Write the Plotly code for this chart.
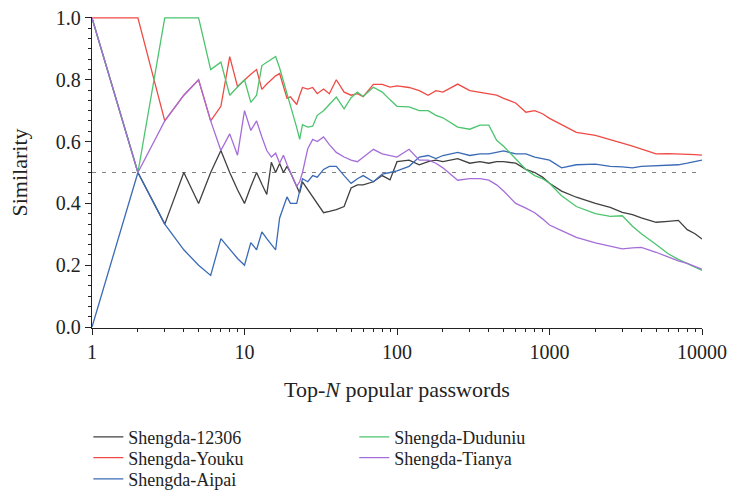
import plotly.graph_objects as go

# Top-N grid (shared by all series)
N = [1, 2, 3, 4, 5, 6, 7, 8, 9, 10,
     11, 12, 13, 14, 15, 16, 17, 18, 19, 20,
     22, 23, 24, 26, 28, 30, 33, 36, 40, 45, 50, 55, 60, 70, 80, 90,
     100, 120, 140, 160, 180, 200, 250, 300, 350, 400, 450, 500, 600, 700, 800, 900,
     1000, 1200, 1500, 2000, 2500, 3000, 3500, 4000, 5000, 6000, 7000, 8000, 9000, 10000]

shengda_12306 = [1.0, 0.5, 0.333, 0.5, 0.4, 0.5, 0.571, 0.5, 0.444, 0.4,
                 0.455, 0.5, 0.462, 0.429, 0.533, 0.5, 0.529, 0.5, 0.52, 0.5,
                 0.455, 0.434, 0.47, 0.445, 0.42, 0.40, 0.37, 0.374, 0.38, 0.39, 0.45, 0.46, 0.46, 0.47, 0.49, 0.476,
                 0.535, 0.54, 0.525, 0.535, 0.54, 0.535, 0.545, 0.53, 0.535, 0.53, 0.535, 0.535, 0.53, 0.51, 0.50, 0.485,
                 0.465, 0.44, 0.42, 0.40, 0.387, 0.371, 0.364, 0.353, 0.339, 0.342, 0.345, 0.315, 0.302, 0.285]

shengda_youku = [1.0, 1.0, 0.667, 0.75, 0.8, 0.667, 0.714, 0.875, 0.778, 0.8,
                 0.818, 0.833, 0.769, 0.786, 0.80, 0.8125, 0.82, 0.78, 0.74, 0.745,
                 0.72, 0.75, 0.775, 0.77, 0.775, 0.755, 0.77, 0.755, 0.80, 0.76, 0.75, 0.755, 0.745, 0.785, 0.785, 0.776,
                 0.78, 0.775, 0.765, 0.75, 0.765, 0.76, 0.786, 0.765, 0.76, 0.755, 0.75, 0.74, 0.725, 0.695, 0.70, 0.69,
                 0.675, 0.655, 0.63, 0.62, 0.605, 0.595, 0.585, 0.575, 0.56, 0.561, 0.56, 0.56, 0.558, 0.556]

shengda_aipai = [0.0, 0.5, 0.333, 0.25, 0.2, 0.167, 0.286, 0.25, 0.222, 0.2,
                 0.273, 0.25, 0.308, 0.286, 0.267, 0.25, 0.353, 0.389, 0.421, 0.40,
                 0.40, 0.44, 0.48, 0.47, 0.49, 0.485, 0.51, 0.52, 0.52, 0.49, 0.465, 0.48, 0.49, 0.47, 0.495, 0.50,
                 0.505, 0.52, 0.55, 0.555, 0.545, 0.555, 0.565, 0.555, 0.56, 0.56, 0.565, 0.57, 0.56, 0.56, 0.55, 0.545,
                 0.54, 0.515, 0.525, 0.527, 0.52, 0.518, 0.515, 0.52, 0.522, 0.525, 0.525, 0.53, 0.535, 0.54]

shengda_duduniu = [1.0, 0.5, 1.0, 1.0, 1.0, 0.833, 0.857, 0.75, 0.778, 0.8,
                   0.727, 0.75, 0.846, 0.857, 0.867, 0.875, 0.838, 0.796, 0.755, 0.717,
                   0.645, 0.607, 0.655, 0.647, 0.65, 0.685, 0.70, 0.72, 0.744, 0.706, 0.742, 0.76, 0.746, 0.776, 0.76, 0.735,
                   0.714, 0.712, 0.70, 0.70, 0.685, 0.677, 0.647, 0.64, 0.653, 0.653, 0.604, 0.585, 0.545, 0.51, 0.49, 0.48,
                   0.465, 0.425, 0.39, 0.367, 0.358, 0.36, 0.326, 0.302, 0.267, 0.237, 0.219, 0.206, 0.195, 0.183]

shengda_tianya = [1.0, 0.5, 0.667, 0.75, 0.8, 0.667, 0.571, 0.625, 0.556, 0.70,
                  0.636, 0.667, 0.615, 0.571, 0.55, 0.5625, 0.53, 0.556, 0.526, 0.50,
                  0.455, 0.47, 0.50, 0.577, 0.607, 0.60, 0.615, 0.59, 0.565, 0.55, 0.54, 0.535, 0.55, 0.575, 0.56, 0.555,
                  0.55, 0.575, 0.54, 0.54, 0.53, 0.515, 0.475, 0.48, 0.48, 0.475, 0.46, 0.44, 0.40, 0.385, 0.37, 0.35,
                  0.33, 0.312, 0.29, 0.272, 0.262, 0.253, 0.256, 0.258, 0.242, 0.226, 0.214, 0.206, 0.197, 0.187]

series_names = ["Shengda-12306", "Shengda-Youku", "Shengda-Aipai", "Shengda-Duduniu", "Shengda-Tianya"]
series_values = [shengda_12306, shengda_youku, shengda_aipai, shengda_duduniu, shengda_tianya]
colors = ["#404040", "#ef4a44", "#3a6ab5", "#4cc46e", "#a56dd8"]

threshold = 0.5
x_tick_vals = [1, 10, 100, 1000, 10000]
x_tick_text = ["1", "10", "100", "1000", "10000"]

FONT = "Liberation Serif"

# legend placement (paper coords): one legend per entry
leg_pos = [(-0.006, -0.351), (-0.006, -0.418), (-0.006, -0.486),
           (0.430, -0.351), (0.430, -0.418)]
leg_ids = ["legend", "legend2", "legend3", "legend4", "legend5"]

fig = go.Figure()
for name, vals, col, lid in zip(series_names, series_values, colors, leg_ids):
    fig.add_trace(go.Scatter(x=N, y=vals, mode="lines", name=name,
                             line=dict(color=col, width=1.3), legend=lid))

fig.add_hline(y=threshold, line=dict(color="#808080", width=1.1, dash="4px,6px"), layer="below")

minor_x = [m * 10 ** d for d in range(4) for m in range(2, 10)]

layout_legends = {}
for lid, (lx, ly) in zip(leg_ids, leg_pos):
    layout_legends[lid] = dict(x=lx, y=ly, xanchor="left", yanchor="middle",
                               bgcolor="rgba(0,0,0,0)", font=dict(family=FONT, size=18, color="#222"),
                               itemwidth=30)

fig.update_layout(
    width=732, height=492,
    margin=dict(l=92, r=30, t=17, b=164, autoexpand=False),
    plot_bgcolor="white", paper_bgcolor="white",
    font=dict(family=FONT, size=20, color="#222"),
    showlegend=True,
    **layout_legends,
    xaxis=dict(type="log", range=[0, 4], showline=True, linecolor="#222", linewidth=1.3,
               ticks="outside", ticklen=6, tickwidth=1.2, tickcolor="#222",
               tickmode="array", tickvals=x_tick_vals, ticktext=x_tick_text,
               tickfont=dict(family=FONT, size=20), ticklabeloverflow="allow",
               minor=dict(ticks="outside", ticklen=3, tickwidth=1, tickcolor="#222",
                          tickmode="array", tickvals=minor_x, showgrid=False),
               showgrid=False, zeroline=False, automargin=False,
               title=dict(text="Top-<i>N</i> popular passwords", font=dict(family=FONT, size=22), standoff=19)),
    yaxis=dict(range=[-0.003, 1.003], showline=True, linecolor="#222", linewidth=1.3,
               ticks="outside", ticklen=6, tickwidth=1.2, tickcolor="#222",
               tick0=0, dtick=0.2, tickformat=".1f",
               tickfont=dict(family=FONT, size=20),
               minor=dict(ticks="outside", ticklen=3, tickwidth=1, tickcolor="#222",
                          tick0=0, dtick=0.2 / 6, showgrid=False),
               showgrid=False, zeroline=False, automargin=False,
               title=dict(text="Similarity", font=dict(family=FONT, size=22), standoff=22)),
)

# remove the default 8 px page margin so the 732x492 figure fills the window exactly
fig.write_html("out.html", config={"displayModeBar": False},
               post_script="document.body.style.margin='0';document.body.style.overflow='hidden';")
